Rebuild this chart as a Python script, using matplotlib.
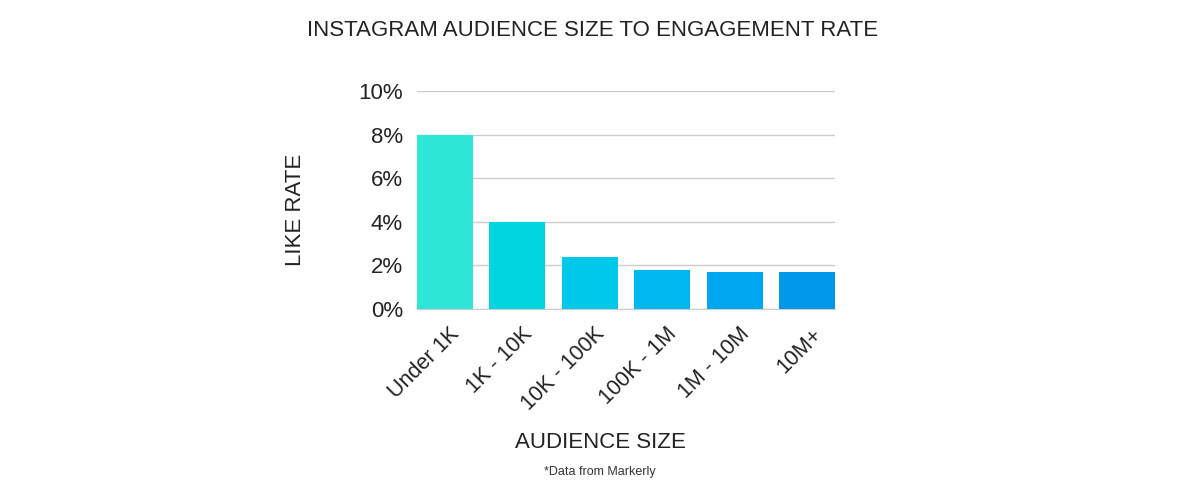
import matplotlib.pyplot as plt
from matplotlib.ticker import FuncFormatter
from matplotlib.transforms import ScaledTranslation

plt.rcParams['font.family'] = ['Liberation Sans', 'DejaVu Sans']

# 데이터
audience_sizes = ['Under 1K', '1K - 10K', '10K - 100K', '100K - 1M', '1M - 10M', '10M+']
like_rates = [8.0, 4.0, 2.4, 1.8, 1.7, 1.7]
bar_colors = ['#2ee6d6', '#00d6e0', '#00c8ea', '#00b7ef', '#00a7f0', '#0096ea']

fig = plt.figure(figsize=(12, 5), dpi=100)
ax = fig.add_axes([0.3475, 0.382, 0.3483, 0.436])

x = range(len(audience_sizes))
ax.bar(x, like_rates, width=0.77, color=bar_colors, zorder=3)

ax.set_xlim(-0.385, len(audience_sizes) - 1 + 0.385)
ax.set_ylim(0, 10)
ax.set_yticks([0, 2, 4, 6, 8, 10])
ax.yaxis.set_major_formatter(FuncFormatter(lambda v, p: f'{v:.0f}%'))
ax.grid(axis='y', color='#cccccc', linewidth=1, zorder=0)

for s in ['top', 'right', 'left']:
    ax.spines[s].set_visible(False)
ax.spines['bottom'].set_color('#cccccc')
ax.tick_params(axis='both', length=0, labelsize=16, colors='#222222')
ax.tick_params(axis='y', pad=10)

ax.set_xticks(list(x))
ax.set_xticklabels(audience_sizes, rotation=45, ha='right', rotation_mode='anchor', fontsize=15.5)
offset = ScaledTranslation(4 / 100, -10 / 100, fig.dpi_scale_trans)
for lbl in ax.get_xticklabels():
    lbl.set_transform(lbl.get_transform() + offset)

# y축 제목은 위치를 직접 지정
fig.text(0.246, 0.581, 'LIKE RATE', rotation=90, ha='center', va='center',
         fontsize=16, color='#222222')

fig.text(0.494, 0.938, 'INSTAGRAM AUDIENCE SIZE TO ENGAGEMENT RATE',
         ha='center', va='center', fontsize=16, color='#222222')
fig.text(0.5, 0.116, 'AUDIENCE SIZE', ha='center', va='center', fontsize=16, color='#222222')
fig.text(0.5, 0.056, '*Data from Markerly', ha='center', va='center', fontsize=9, color='#333333')

fig.savefig('out.png', dpi=100)
